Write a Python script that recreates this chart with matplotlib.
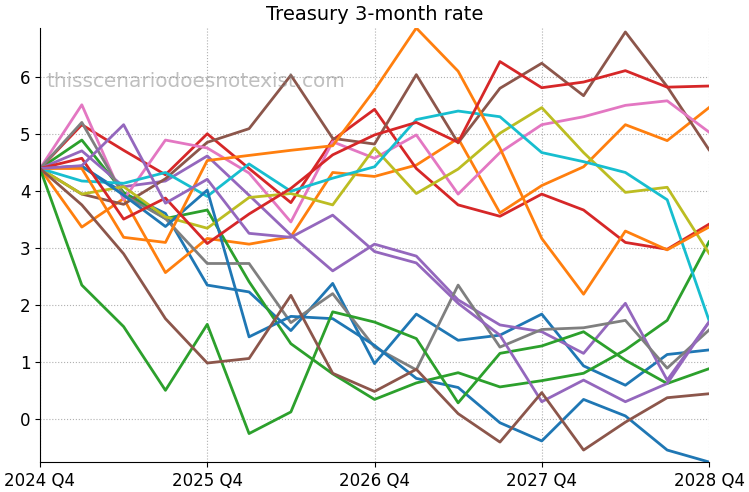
import numpy as np
import matplotlib
matplotlib.use("Agg")
import matplotlib.pyplot as plt

quarters = ["2024 Q4", "2025 Q1", "2025 Q2", "2025 Q3", "2025 Q4", "2026 Q1", "2026 Q2", "2026 Q3",
            "2026 Q4", "2027 Q1", "2027 Q2", "2027 Q3", "2027 Q4", "2028 Q1", "2028 Q2", "2028 Q3", "2028 Q4"]

# one scenario per list, drawn in tab10 order
blue_1 = [4.4, 4.44, 3.97, 3.61, 2.35, 2.23, 1.55, 2.38, 0.97, 1.84, 1.38, 1.47, 1.84, 0.93, 0.59, 1.13, 1.21]
orange_1 = [4.4, 3.37, 3.87, 2.57, 3.17, 3.07, 3.20, 4.33, 4.26, 4.46, 4.93, 3.62, 4.10, 4.43, 5.17, 4.89, 5.47]
green_1 = [4.4, 4.90, 3.98, 3.52, 3.67, 2.41, 1.32, 0.79, 0.34, 0.63, 0.81, 0.56, 0.67, 0.80, 1.21, 1.73, 3.11]
red_1 = [4.4, 5.17, 4.72, 4.29, 5.01, 4.40, 3.80, 4.90, 5.44, 4.40, 3.76, 3.56, 3.95, 3.67, 3.10, 2.98, 3.42]
purple_1 = [4.4, 4.71, 4.08, 4.18, 4.62, 3.93, 3.23, 2.60, 3.07, 2.86, 2.09, 1.65, 1.53, 1.15, 2.03, 0.68, 1.70]
brown_1 = [4.4, 3.95, 3.77, 4.22, 4.86, 5.10, 6.04, 4.93, 4.83, 6.05, 4.85, 5.81, 6.25, 5.68, 6.80, 5.84, 4.73]
pink_1 = [4.4, 5.52, 3.85, 4.90, 4.76, 4.32, 3.46, 4.87, 4.58, 4.99, 3.95, 4.68, 5.17, 5.31, 5.51, 5.59, 5.04]
gray_1 = [4.4, 5.21, 3.93, 3.52, 2.73, 2.73, 1.69, 2.20, 1.26, 0.86, 2.35, 1.26, 1.57, 1.60, 1.73, 0.89, 1.56]
olive_1 = [4.4, 3.95, 4.08, 3.55, 3.35, 3.89, 3.96, 3.76, 4.76, 3.96, 4.39, 5.02, 5.47, 4.68, 3.98, 4.07, 2.91]
cyan_1 = [4.4, 4.18, 4.14, 4.33, 3.91, 4.48, 4.00, 4.23, 4.43, 5.26, 5.41, 5.31, 4.68, 4.52, 4.33, 3.85, 1.73]
blue_2 = [4.4, 4.44, 3.93, 3.38, 4.02, 1.44, 1.80, 1.76, 1.29, 0.71, 0.55, -0.07, -0.39, 0.34, 0.05, -0.55, -0.76]
orange_2 = [4.4, 4.40, 3.19, 3.10, 4.54, 4.63, 4.72, 4.80, 5.78, 6.87, 6.11, 4.76, 3.17, 2.19, 3.30, 2.97, 3.37]
green_2 = [4.4, 2.35, 1.62, 0.50, 1.66, -0.26, 0.12, 1.88, 1.70, 1.41, 0.28, 1.15, 1.28, 1.53, 1.03, 0.62, 0.88]
red_2 = [4.4, 4.58, 3.51, 3.88, 3.08, 3.60, 4.05, 4.64, 4.99, 5.21, 4.86, 6.28, 5.82, 5.92, 6.12, 5.83, 5.85]
purple_2 = [4.4, 4.45, 5.17, 3.79, 4.21, 3.26, 3.19, 3.58, 2.94, 2.74, 2.03, 1.47, 0.30, 0.68, 0.30, 0.62, 1.70]
brown_2 = [4.4, 3.76, 2.90, 1.76, 0.98, 1.06, 2.17, 0.80, 0.48, 0.87, 0.09, -0.41, 0.46, -0.55, -0.06, 0.37, 0.44]

scenarios = [blue_1, orange_1, green_1, red_1, purple_1, brown_1, pink_1, gray_1, olive_1, cyan_1,
             blue_2, orange_2, green_2, red_2, purple_2, brown_2]

fig = plt.figure(figsize=(7.49, 4.92), dpi=100)
ax = fig.add_axes([40/749, 30/492, 669/749, 434/492])

x = np.arange(len(quarters))
for s in scenarios:
    ax.plot(x, s, lw=2)

ax.margins(x=0, y=0)
ax.set_xticks(x[::4])
ax.set_xticklabels(quarters[::4], fontsize=12)
ax.set_yticks(range(0, 7))
ax.tick_params(axis="y", labelsize=12)
ax.grid(True, linestyle=":", color="#b0b0b0", linewidth=0.8)
ax.spines["top"].set_visible(False)
ax.spines["right"].set_visible(False)
ax.set_title("Treasury 3-month rate", fontsize=14)
ax.text(0.01, 0.877, "thisscenariodoesnotexist.com", transform=ax.transAxes,
        fontsize=14.4, color="gray", alpha=0.5, va="center", ha="left")

plt.savefig("out.png")
